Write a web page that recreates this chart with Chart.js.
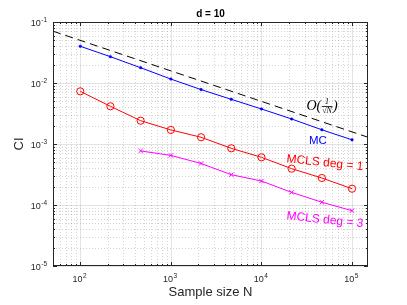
<!DOCTYPE html>
<html>
<head>
<meta charset="utf-8">
<script src="https://cdn.jsdelivr.net/npm/chart.js@4/dist/chart.umd.min.js"></script>
<style>
  html, body { margin: 0; padding: 0; background: #fff; }
  #wrap { width: 407px; height: 305px; }
</style>
</head>
<body>
<div id="wrap"><canvas id="ciChart" width="407" height="305"></canvas></div>
<script>
// sample sizes (logspace 10^2 .. 10^5, 10 points)
const sampleN = [100, 215, 464, 1000, 2154, 4642, 10000, 21544, 46416, 100000];
const ciMC    = [0.040, 0.027, 0.0178, 0.0116, 0.0078, 0.0054, 0.00375, 0.00257, 0.00171, 0.00117];
const ciDeg1  = [0.0073, 0.00415, 0.00241, 0.0017, 0.00129, 0.00085, 0.000605, 0.000394, 0.000277, 0.000185];
const ciDeg3  = [null, null, 0.00077, 0.00065, 0.00048, 0.000314, 0.000247, 0.000161, 0.000111, 0.0000807];
// reference slope O(1/sqrt(N)), end points
const refN  = [50, 150000];
const refCI = [0.0707, 0.00129];

const xTicks = [1e2, 1e3, 1e4, 1e5];
const xTickExp = ['2', '3', '4', '5'];
const yTicks = [1e-5, 1e-4, 1e-3, 1e-2, 1e-1];
const yTickExp = ['-5', '-4', '-3', '-2', '-1'];

const pts = (xs, ys) => xs.map((v, i) => ({ x: v, y: ys[i] })).filter(p => p.y != null);

const sans = '"Liberation Sans", Arial, Helvetica, sans-serif';
const axisCol = '#262626';

function minorValues(lo, hi) {
  const out = [];
  for (let e = Math.floor(Math.log10(lo)); e <= Math.ceil(Math.log10(hi)); e++) {
    for (let m = 1; m <= 9; m++) {
      const v = m * Math.pow(10, e);
      if (v >= lo * 0.999 && v <= hi * 1.001) out.push({ v, major: m === 1 });
    }
  }
  return out;
}

function drawOrderLabel(ctx, cx, cy) {
  const big = 'italic 14px "Liberation Serif", "DejaVu Serif", serif';
  const small = 'italic 8px "Liberation Serif", "DejaVu Serif", serif';
  ctx.font = big;
  const wO = ctx.measureText('O(').width;
  ctx.font = small;
  const wF = ctx.measureText('\u221AN').width + 2;
  ctx.font = big;
  const wP = ctx.measureText(')').width;
  let x0 = cx - (wO + wF + wP) / 2;
  ctx.fillStyle = '#000';
  ctx.textBaseline = 'middle';
  ctx.textAlign = 'left';
  ctx.fillText('O(', x0, cy);
  ctx.font = small;
  ctx.textAlign = 'center';
  ctx.fillText('1', x0 + wO + wF / 2, cy - 4);
  ctx.fillText('\u221AN', x0 + wO + wF / 2, cy + 5);
  ctx.strokeStyle = '#000';
  ctx.lineWidth = 0.8;
  ctx.beginPath();
  ctx.moveTo(x0 + wO + 0.5, cy + 0.5);
  ctx.lineTo(x0 + wO + wF - 0.5, cy + 0.5);
  ctx.stroke();
  ctx.font = big;
  ctx.textAlign = 'left';
  ctx.fillText(')', x0 + wO + wF, cy);
}

const matlabAxes = {
  id: 'matlabAxes',
  beforeDatasetsDraw(chart) {
    const { ctx, chartArea: a, scales: { x, y } } = chart;
    ctx.save();
    ctx.lineWidth = 1;
    // minor dotted grid
    ctx.strokeStyle = 'rgba(38,38,38,0.2)';
    ctx.setLineDash([1, 2]);
    minorValues(x.min, x.max).filter(t => !t.major).forEach(t => {
      const px = Math.round(x.getPixelForValue(t.v)) + 0.5;
      ctx.beginPath(); ctx.moveTo(px, a.top); ctx.lineTo(px, a.bottom); ctx.stroke();
    });
    minorValues(y.min, y.max).filter(t => !t.major).forEach(t => {
      const py = Math.round(y.getPixelForValue(t.v)) + 0.5;
      ctx.beginPath(); ctx.moveTo(a.left, py); ctx.lineTo(a.right, py); ctx.stroke();
    });
    // major solid grid
    ctx.setLineDash([]);
    ctx.strokeStyle = 'rgba(38,38,38,0.13)';
    xTicks.forEach(v => {
      const px = Math.round(x.getPixelForValue(v)) + 0.5;
      ctx.beginPath(); ctx.moveTo(px, a.top); ctx.lineTo(px, a.bottom); ctx.stroke();
    });
    yTicks.forEach(v => {
      const py = Math.round(y.getPixelForValue(v)) + 0.5;
      ctx.beginPath(); ctx.moveTo(a.left, py); ctx.lineTo(a.right, py); ctx.stroke();
    });
    ctx.restore();
  },
  afterDraw(chart) {
    const { ctx, chartArea: a, scales: { x, y } } = chart;
    ctx.save();
    // box
    ctx.strokeStyle = axisCol;
    ctx.lineWidth = 1;
    ctx.strokeRect(Math.round(a.left) + 0.5, Math.round(a.top) + 0.5,
      Math.round(a.right - a.left) - 1, Math.round(a.bottom - a.top) - 1);
    // inward tick marks on all four sides
    ctx.beginPath();
    minorValues(x.min, x.max).forEach(t => {
      const px = Math.round(x.getPixelForValue(t.v)) + 0.5;
      const len = t.major ? 4 : 2;
      ctx.moveTo(px, a.bottom); ctx.lineTo(px, a.bottom - len);
      ctx.moveTo(px, a.top); ctx.lineTo(px, a.top + len);
    });
    minorValues(y.min, y.max).forEach(t => {
      const py = Math.round(y.getPixelForValue(t.v)) + 0.5;
      const len = t.major ? 4 : 2;
      ctx.moveTo(a.left, py); ctx.lineTo(a.left + len, py);
      ctx.moveTo(a.right, py); ctx.lineTo(a.right - len, py);
    });
    ctx.stroke();

    // tick labels 10^k
    ctx.fillStyle = axisCol;
    ctx.textBaseline = 'middle';
    const baseFont = '9px ' + sans, supFont = '6.5px ' + sans;
    xTicks.forEach((v, i) => {
      const px = x.getPixelForValue(v);
      ctx.font = baseFont; const wb = ctx.measureText('10').width;
      ctx.font = supFont; const ws = ctx.measureText(xTickExp[i]).width;
      const x0 = px - (wb + ws) / 2 - 1;
      ctx.textAlign = 'left';
      ctx.font = baseFont; ctx.fillText('10', x0, a.bottom + 14);
      ctx.font = supFont; ctx.fillText(xTickExp[i], x0 + wb + 0.5, a.bottom + 10);
    });
    yTicks.forEach((v, i) => {
      const py = y.getPixelForValue(v);
      ctx.font = supFont; const ws = ctx.measureText(yTickExp[i]).width;
      ctx.textAlign = 'right';
      ctx.fillText(yTickExp[i], a.left - 6, py - 2);
      ctx.font = baseFont; ctx.fillText('10', a.left - 6 - ws - 0.5, py + 2);
    });

    // title and axis titles
    const cx = (a.left + a.right) / 2;
    ctx.fillStyle = '#000';
    ctx.textAlign = 'center';
    ctx.font = 'bold 10px ' + sans;
    ctx.fillText('d = 10', cx, a.top - 8);
    ctx.fillStyle = axisCol;
    ctx.font = '13px ' + sans;
    ctx.fillText('Sample size N', cx, a.bottom + 26);
    ctx.save();
    ctx.translate(19, (a.top + a.bottom) / 2);
    ctx.rotate(-Math.PI / 2);
    ctx.fillText('CI', 0, 0);
    ctx.restore();

    // annotations anchored to data coordinates
    drawOrderLabel(ctx, x.getPixelForValue(46600), y.getPixelForValue(0.0042));
    ctx.textAlign = 'center';
    ctx.textBaseline = 'middle';
    ctx.font = '11.5px ' + sans;
    ctx.fillStyle = '#0000ff';
    ctx.fillText('MC', x.getPixelForValue(42000), y.getPixelForValue(0.00112));
    const tilted = (txt, col, nx, cy) => {
      ctx.save();
      ctx.translate(x.getPixelForValue(nx), y.getPixelForValue(cy));
      ctx.rotate(6 * Math.PI / 180);
      ctx.fillStyle = col;
      ctx.font = '12px ' + sans;
      ctx.fillText(txt, 0, 0);
      ctx.restore();
    };
    tilted('MCLS deg = 1', '#ff0000', 50200, 0.000489);
    tilted('MCLS deg = 3', '#ff00ff', 50200, 0.0000568);
    ctx.restore();
  }
};

new Chart(document.getElementById('ciChart'), {
  type: 'line',
  data: {
    datasets: [
      {
        label: 'O(1/sqrt(N))',
        data: pts(refN, refCI),
        borderColor: '#000',
        borderWidth: 1,
        borderDash: [8, 5],
        pointRadius: 0,
        fill: false
      },
      {
        label: 'MC',
        data: pts(sampleN, ciMC),
        borderColor: '#0000ff',
        backgroundColor: '#0000ff',
        borderWidth: 1,
        pointStyle: 'circle',
        pointRadius: 1.3,
        pointBorderWidth: 0.5,
        fill: false
      },
      {
        label: 'MCLS deg = 1',
        data: pts(sampleN, ciDeg1),
        borderColor: '#ff0000',
        backgroundColor: 'rgba(0,0,0,0)',
        borderWidth: 1,
        pointStyle: 'circle',
        pointRadius: 3.6,
        pointBorderWidth: 1,
        fill: false
      },
      {
        label: 'MCLS deg = 3',
        data: pts(sampleN, ciDeg3),
        borderColor: '#ff00ff',
        backgroundColor: '#ff00ff',
        borderWidth: 1,
        pointStyle: 'crossRot',
        pointRadius: 3,
        pointBorderWidth: 1,
        fill: false
      }
    ]
  },
  options: {
    responsive: false,
    animation: false,
    devicePixelRatio: 1,
    layout: { padding: { left: 53, right: 39, top: 22, bottom: 39 } },
    plugins: {
      legend: { display: false },
      tooltip: { enabled: false }
    },
    scales: {
      x: { type: 'logarithmic', display: false, min: 50, max: 150000 },
      y: { type: 'logarithmic', display: false, min: 1e-5, max: 1e-1 }
    }
  },
  plugins: [matlabAxes]
});
</script>
</body>
</html>
